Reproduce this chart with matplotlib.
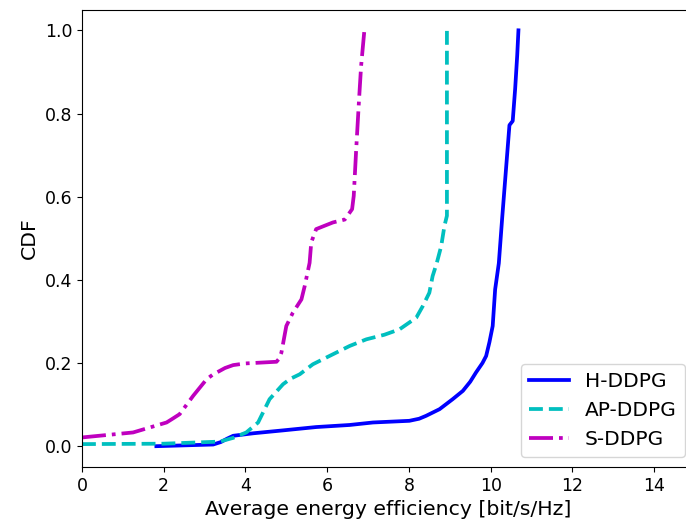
import matplotlib
matplotlib.use("Agg")
import matplotlib.pyplot as plt

# CDF curves of average energy efficiency for each scheme
h_x = [1.82, 3.21, 3.40, 3.55, 3.70, 4.19, 4.92, 5.73, 6.55, 7.12, 8.01, 8.25, 8.42, 8.75, 9.07,
       9.32, 9.50, 9.64, 9.80, 9.89, 9.97, 10.05, 10.11, 10.20, 10.28, 10.46, 10.54, 10.60, 10.65, 10.68]
h_y = [0.0, 0.004, 0.010, 0.018, 0.025, 0.031, 0.038, 0.046, 0.051, 0.057, 0.061, 0.066, 0.073, 0.089, 0.113,
       0.133, 0.155, 0.177, 0.200, 0.217, 0.250, 0.289, 0.377, 0.440, 0.546, 0.772, 0.782, 0.86, 0.94, 1.0]

ap_x = [0.0, 2.0, 3.37, 3.70, 4.02, 4.31, 4.45, 4.59, 4.92, 5.10, 5.33, 5.65, 6.14, 6.55, 6.96,
        7.40, 7.77, 8.18, 8.34, 8.50, 8.58, 8.68, 8.79, 8.87, 8.93, 8.93]
ap_y = [0.005, 0.006, 0.011, 0.020, 0.033, 0.057, 0.085, 0.113, 0.149, 0.162, 0.173, 0.197, 0.221, 0.241, 0.257,
        0.268, 0.281, 0.309, 0.337, 0.369, 0.409, 0.440, 0.481, 0.530, 0.554, 1.0]

s_x = [0.0, 1.25, 2.07, 2.20, 2.39, 2.72, 3.05, 3.20, 3.37, 3.50, 3.70, 4.00, 4.19, 4.76, 4.82, 4.88, 5.00,
       5.16, 5.37, 5.45, 5.57, 5.61, 5.73, 6.14, 6.43, 6.61, 6.65, 6.71, 6.78, 6.83, 6.91]
s_y = [0.021, 0.033, 0.057, 0.065, 0.077, 0.121, 0.161, 0.172, 0.181, 0.188, 0.195, 0.199, 0.200, 0.203, 0.210,
       0.225, 0.289, 0.321, 0.353, 0.385, 0.441, 0.490, 0.522, 0.538, 0.545, 0.570, 0.602, 0.714, 0.834, 0.914, 1.0]

fig = plt.figure(figsize=(6.86, 5.27), dpi=100)
ax = fig.add_axes([0.1195, 0.1139, 0.8936, 0.868])

ax.plot(h_x, h_y, 'b-', linewidth=2.7, label='H-DDPG')
ax.plot(ap_x, ap_y, 'c--', linewidth=2.7, label='AP-DDPG')
ax.plot(s_x, s_y, 'm-.', linewidth=2.7, label='S-DDPG')

ax.set_xlim(0, 15)
ax.set_ylim(-0.05, 1.05)
ax.set_xticks([0, 2, 4, 6, 8, 10, 12, 14])
ax.set_yticks([0.0, 0.2, 0.4, 0.6, 0.8, 1.0])
ax.tick_params(labelsize=12.5)
ax.set_xlabel('Average energy efficiency [bit/s/Hz]', fontsize=14.7)
ax.set_ylabel('CDF', fontsize=14.7)
ax.legend(loc='lower right', fontsize=14.5)

fig.savefig('out.png', dpi=100)
